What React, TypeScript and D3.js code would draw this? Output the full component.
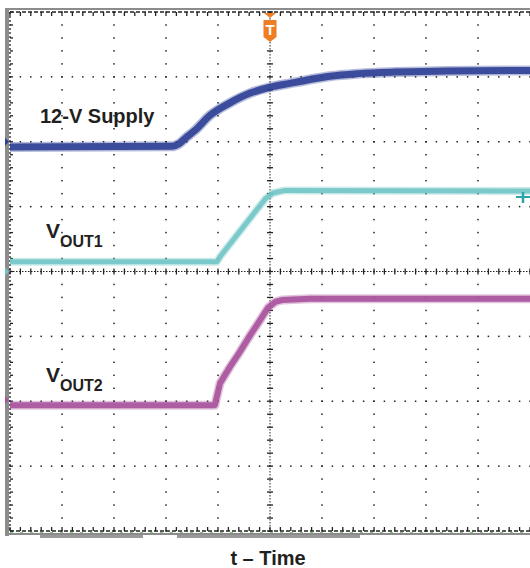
import React, { useEffect, useRef } from 'react'
import * as d3 from 'd3'

// time in scope divisions (0..10), level in divisions from the centre line (-4..4)
const supplyTime = [0, 3.12, 3.25, 3.38, 3.55, 3.85, 4.23, 4.62, 5.0, 5.38, 5.77, 6.15, 6.7, 7.4, 8.4, 10]
const supplyLevel = [1.92, 1.93, 1.97, 2.06, 2.17, 2.41, 2.6, 2.75, 2.84, 2.9, 2.96, 3.01, 3.05, 3.075, 3.09, 3.1]

const vout1Time = [0, 3.98, 4.05, 4.92, 5.06, 5.29, 10]
const vout1Level = [0.15, 0.15, 0.24, 1.13, 1.21, 1.25, 1.24]

const vout2Time = [0, 3.94, 4.04, 4.23, 4.42, 4.62, 4.81, 4.96, 5.1, 5.23, 5.77, 10]
const vout2Level = [-2.06, -2.06, -1.72, -1.47, -1.24, -0.98, -0.75, -0.56, -0.47, -0.44, -0.42, -0.42]

const traceColors = ['#2e3f95', '#72c5c7', '#a8529c']
const markerLevel = [2.0, 0.0, -1.98]

const labelMain = ['12-V Supply', 'V', 'V']
const labelSub = ['', 'OUT1', 'OUT2']

const xLabel = 't \u2013 Time'

export default function App() {
  const ref = useRef<SVGSVGElement>(null)

  useEffect(() => {
    const svg = d3.select(ref.current)
    svg.selectAll('*').remove()

    const x = d3.scaleLinear().domain([0, 10]).range([10, 530])
    const y = d3.scaleLinear().domain([-4, 4]).range([531, 12])

    const minorX = d3.range(0, 10.001, 0.2)
    const minorY = d3.range(-4, 4.001, 0.2)

    // grey scope frame
    svg.append('rect').attr('x', 5).attr('y', 8).attr('width', 4).attr('height', 528).attr('fill', '#8c8c8c')
    svg.append('line').attr('x1', 5).attr('x2', 530).attr('y1', 9).attr('y2', 9)
      .attr('stroke', '#8c8c8c').attr('stroke-width', 2)
    svg.append('line').attr('x1', 5).attr('x2', 530).attr('y1', 534).attr('y2', 534)
      .attr('stroke', '#8c8c8c').attr('stroke-width', 2)
    svg.append('rect').attr('x', 40).attr('y', 535).attr('width', 103).attr('height', 3).attr('fill', '#9a9a9a')
    svg.append('rect').attr('x', 177).attr('y', 535).attr('width', 183).attr('height', 3).attr('fill', '#9a9a9a')

    const grid = svg.append('g').attr('fill', '#222')
    // dotted vertical grid lines
    d3.range(1, 10).filter(k => k !== 5).forEach(k => {
      grid.selectAll(null).data(minorY).enter().append('rect')
        .attr('x', x(k) - 0.75).attr('y', d => y(d) - 0.75)
        .attr('width', 1.5).attr('height', 1.5)
    })
    // dotted horizontal grid lines
    d3.range(-3, 4).filter(k => k !== 0).forEach(k => {
      grid.selectAll(null).data(minorX).enter().append('rect')
        .attr('x', d => x(d) - 0.75).attr('y', y(k) - 0.75)
        .attr('width', 1.5).attr('height', 1.5)
    })

    const ax = svg.append('g').attr('stroke', '#222')
    // centre axes with ticks
    ax.append('line').attr('x1', x(5)).attr('x2', x(5)).attr('y1', y(4)).attr('y2', y(-4))
      .attr('stroke-dasharray', '1.5,1.5').attr('stroke-width', 1)
    ax.append('line').attr('x1', x(0)).attr('x2', x(10)).attr('y1', y(0)).attr('y2', y(0))
      .attr('stroke-dasharray', '1.5,1.5').attr('stroke-width', 1)
    ax.selectAll(null).data(minorY).enter().append('line')
      .attr('x1', x(5) - 3).attr('x2', x(5) + 3).attr('y1', d => y(d)).attr('y2', d => y(d))
      .attr('stroke-width', 1.3)
    ax.selectAll(null).data(minorX).enter().append('line')
      .attr('y1', y(0) - 3).attr('y2', y(0) + 3).attr('x1', d => x(d)).attr('x2', d => x(d))
      .attr('stroke-width', 1.3)

    // border lines with ticks
    ax.append('line').attr('x1', x(0)).attr('x2', x(10)).attr('y1', y(4)).attr('y2', y(4))
      .attr('stroke-dasharray', '4,2').attr('stroke-width', 1.3)
    ax.append('line').attr('x1', x(0)).attr('x2', x(10)).attr('y1', y(-4)).attr('y2', y(-4))
      .attr('stroke-dasharray', '4,2').attr('stroke-width', 1.3)
    ax.append('line').attr('x1', x(0)).attr('x2', x(0)).attr('y1', y(4)).attr('y2', y(-4))
      .attr('stroke-dasharray', '2,2').attr('stroke-width', 1.3)
    ax.selectAll(null).data(minorX).enter().append('line')
      .attr('x1', d => x(d)).attr('x2', d => x(d)).attr('y1', y(4)).attr('y2', y(4) + 4)
      .attr('stroke-width', 1.3)
    ax.selectAll(null).data(minorX).enter().append('line')
      .attr('x1', d => x(d)).attr('x2', d => x(d)).attr('y1', y(-4)).attr('y2', y(-4) - 4)
      .attr('stroke-width', 1.3)
    ax.selectAll(null).data(minorY).enter().append('line')
      .attr('x1', x(0)).attr('x2', x(0) + 3).attr('y1', d => y(d)).attr('y2', d => y(d))
      .attr('stroke-width', 1.3)
    svg.append('line').attr('x1', x(0)).attr('x2', x(10)).attr('y1', y(-4) + 1.5).attr('y2', y(-4) + 1.5)
      .attr('stroke', '#7cc77c').attr('stroke-dasharray', '3,7').attr('stroke-width', 1)

    // traces
    const smooth = d3.line<[number, number]>()
      .x(d => x(d[0])).y(d => y(d[1]))
      .curve(d3.curveMonotoneX)
    const straight = d3.line<[number, number]>()
      .x(d => x(d[0])).y(d => y(d[1]))
    const traces: [number, number][][] = [
      supplyTime.map((t, i) => [t, supplyLevel[i]]),
      vout1Time.map((t, i) => [t, vout1Level[i]]),
      vout2Time.map((t, i) => [t, vout2Level[i]]),
    ]
    const widths = [7, 5, 6]
    traces.forEach((tr, i) => {
      const gen = i === 0 ? smooth : straight
      svg.append('path').attr('d', gen(tr)).attr('fill', 'none').attr('stroke-linejoin', 'round')
        .attr('stroke', traceColors[i]).attr('stroke-width', widths[i] + 3).attr('opacity', 0.35)
      svg.append('path').attr('d', gen(tr)).attr('fill', 'none').attr('stroke-linejoin', 'round')
        .attr('stroke', traceColors[i]).attr('stroke-width', widths[i]).attr('opacity', 0.9)
    })

    // channel markers on the left edge
    markerLevel.forEach((m, i) => {
      const yy = y(m)
      svg.append('path').attr('d', `M5,${yy - 4}L9,${yy}L5,${yy + 4}Z`).attr('fill', traceColors[i])
    })
    // cyan cursor marker at right
    svg.append('line').attr('x1', 516).attr('x2', 530).attr('y1', 197).attr('y2', 197)
      .attr('stroke', '#2aa6a8').attr('stroke-width', 2)
    svg.append('line').attr('x1', 523).attr('x2', 523).attr('y1', 192).attr('y2', 203)
      .attr('stroke', '#2aa6a8').attr('stroke-width', 2.5)

    // trigger marker
    const tx = x(5)
    const trig = svg.append('g').attr('fill', '#ef7d23')
    trig.append('path').attr('d', `M${tx - 6},13L${tx + 6},13L${tx},18Z`)
    trig.append('path').attr('d', `M${tx - 6.5},20L${tx + 6.5},20L${tx + 6.5},37L${tx},42L${tx - 6.5},37Z`)
    svg.append('text').attr('x', tx).attr('y', 35).attr('text-anchor', 'middle')
      .attr('font-family', 'Liberation Sans, Arial, sans-serif').attr('font-weight', 'bold')
      .attr('font-size', 15).attr('fill', '#fff').text('T')

    // labels
    const font = 'Liberation Sans, Arial, Helvetica, sans-serif'
    const labelPos = [[40, 123], [46, 238], [46, 382]]
    labelMain.forEach((s, i) => {
      const t = svg.append('text').attr('x', labelPos[i][0]).attr('y', labelPos[i][1])
        .attr('font-family', font).attr('font-weight', 'bold').attr('font-size', i === 0 ? 20 : 21)
        .attr('fill', '#231f20')
        .text(s)
      if (labelSub[i]) {
        t.append('tspan').attr('dy', 9).attr('font-size', 16).text(labelSub[i])
      }
    })
    svg.append('text').attr('x', 268).attr('y', 565).attr('text-anchor', 'middle')
      .attr('font-family', font).attr('font-weight', 'bold').attr('font-size', 20).attr('fill', '#231f20')
      .text(xLabel)
  }, [])

  return (
    <svg ref={ref} width={530} height={568}
      style={{ position: 'absolute', left: 0, top: 0, background: '#fff' }} />
  )
}
